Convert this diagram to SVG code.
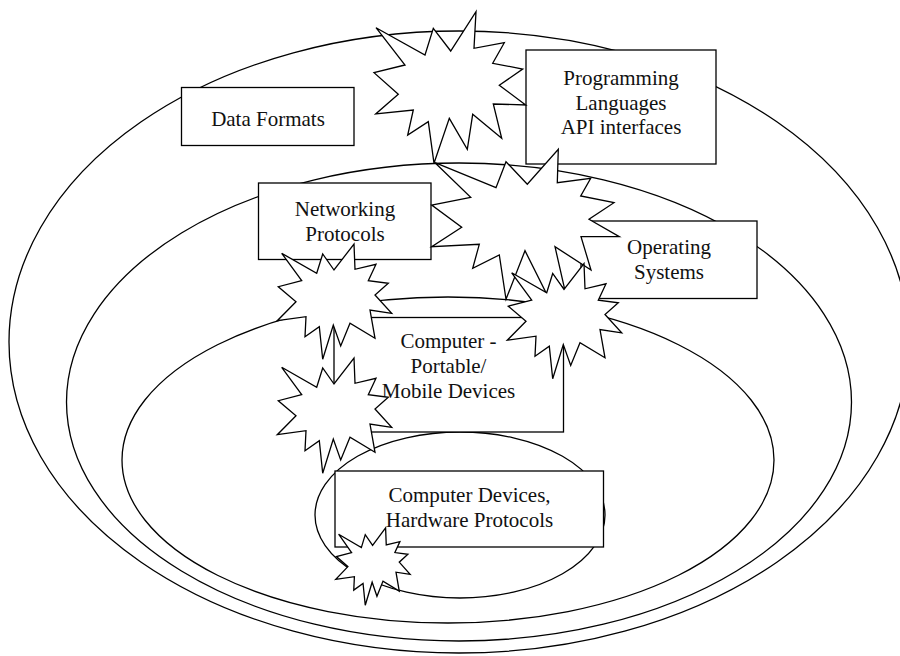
<svg xmlns="http://www.w3.org/2000/svg" xmlns:xlink="http://www.w3.org/1999/xlink" width="900" height="656" viewBox="0 0 900 656">
<style>
.ring{fill:none;stroke:#000;stroke-width:1.3}
.box{fill:#fff;stroke:#000;stroke-width:1.3}
.burst{fill:#fff;stroke:#000;stroke-width:1.3;stroke-linejoin:miter}
text{font-family:"Liberation Serif","Times New Roman",serif;font-size:21px;fill:#111;text-anchor:middle}
</style>
<defs>
<polygon id="burstA" class="burst" vector-effect="non-scaling-stroke" points="281.7,253.3 316.7,273.3 322.7,254 334,270 354,244 355,269.3 376,264.3 368.3,280.7 388.3,283.3 375,295 391.7,313.3 370,310 375,338.3 350,323.3 340.7,346 333.3,325 322.7,359.3 319.3,326.7 305,336.7 306,316.7 277.3,320.7 296,301.7 278.3,286.7 301.7,280.7"/>
</defs>
<rect width="900" height="656" fill="#fff"/>
<g id="ring-outer"><ellipse class="ring" cx="459" cy="342" rx="450" ry="311"/></g>
<g id="ring-second"><ellipse class="ring" cx="459" cy="402" rx="392.5" ry="239"/></g>
<g id="ring-third"><ellipse class="ring" cx="448" cy="460" rx="326" ry="163"/></g>
<g id="ring-inner"><ellipse class="ring" cx="460" cy="515" rx="145" ry="83"/></g>

<g id="data-formats"><rect class="box" x="181.5" y="87.5" width="172.5" height="58"/><text x="268" y="126">Data Formats</text></g>
<g id="programming"><rect class="box" x="526" y="50" width="190" height="114"/><text x="621" y="85">Programming</text><text x="621" y="109.5">Languages</text><text x="621" y="134">API interfaces</text></g>
<g id="networking"><rect class="box" x="258.5" y="183" width="172.5" height="76.5"/><text x="345" y="216">Networking</text><text x="345" y="240.5">Protocols</text></g>
<g id="operating"><rect class="box" x="581" y="221" width="176" height="77.5"/><text x="669" y="253.5">Operating</text><text x="669" y="279">Systems</text></g>
<g id="portable"><rect class="box" x="334" y="317.5" width="229.5" height="114.5"/><text x="448.5" y="347.5">Computer -</text><text x="448.5" y="372.5">Portable/</text><text x="448.5" y="397.5">Mobile Devices</text></g>
<g id="hardware"><rect class="box" x="335" y="471" width="268.5" height="76"/><text x="469.5" y="501.5">Computer Devices,</text><text x="469.5" y="526.5">Hardware Protocols</text></g>

<g id="connectors"></g>

<g id="burst-1"><polygon class="burst" points="376,27.7 425,55 433.3,28.3 450.7,51 476,11.7 474,48.3 504.3,42.7 492.7,63.3 522.7,69 499.3,85.3 525.7,105 493.3,104 501.7,138.3 472.7,114.3 467.3,149.3 449.3,118.3 434,163.3 428.3,121.7 407.7,135 413.3,110 375.7,114 398.3,94.3 374,72.7 405,65"/></g>
<g id="burst-2"><polygon class="burst" points="435,162.7 496,187.7 506,161.7 527.3,184.3 558.3,149.3 557.3,182.7 590.7,178.3 580.7,196 614,202.7 589,219.3 619.3,236.7 581,236.7 591,270 555,246.7 565,290.7 553.3,275 546.7,294 525,250.7 506,299.3 499.3,255 472.7,268.3 479.3,244.3 431.7,246.7 461.7,227.3 431.7,205 470.7,197.3"/></g>
<g id="burst-3"><use xlink:href="#burstA" href="#burstA"/></g>
<g id="burst-4"><use xlink:href="#burstA" href="#burstA" transform="translate(230,19.5)"/></g>
<g id="burst-5"><use xlink:href="#burstA" href="#burstA" transform="translate(0,114)"/></g>
<g id="burst-6"><use xlink:href="#burstA" href="#burstA" transform="translate(155.5,364.5) scale(0.65,0.67)"/></g>
</svg>
